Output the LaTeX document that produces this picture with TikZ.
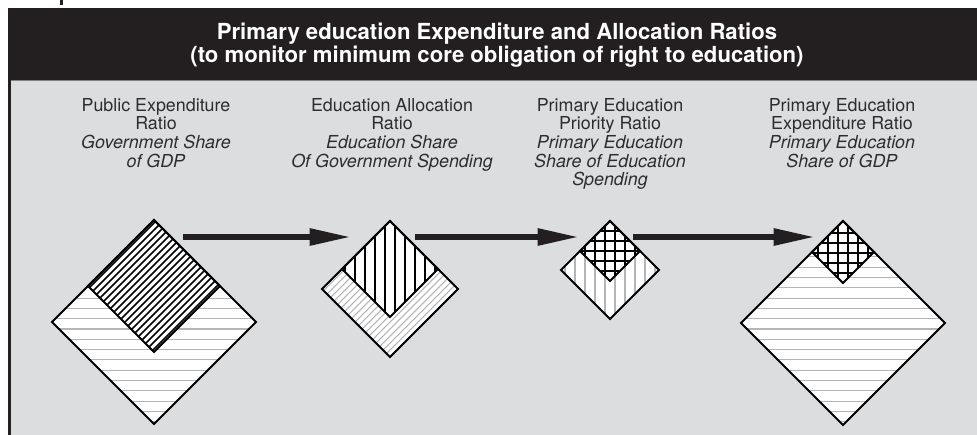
\documentclass[tikz,border=0pt]{standalone}
\usepackage{fontspec}
\setmainfont{TeX Gyre Heros}
\usetikzlibrary{calc, arrows.meta}

\definecolor{panelgrey}{HTML}{DCDDDF}
\definecolor{headblack}{HTML}{231F20}
\definecolor{textgrey}{HTML}{2D2D2D}
\definecolor{hatchgrey}{HTML}{B4B5B7}

\tikzset{
    lbl/.style={anchor=north, inner sep=0pt, align=center, text=textgrey,
        font=\fontsize{13.4}{14}\selectfont},
    hdr/.style={inner sep=0pt, align=center, text=white,
        font=\bfseries\fontsize{16.6}{17.4}\selectfont},
    edge/.style={line width=1.5pt, line join=miter},
    greyhatch/.style={hatchgrey, line width=0.8pt},
    blackhatch/.style={black, line width=1.1pt},
    flow/.style={line width=4.3pt, headblack, -{Triangle[length=31pt, width=12pt]}}
}

\begin{document}
\begin{tikzpicture}[x=0.75pt, y=-0.75pt]
        \useasboundingbox (0,0) rectangle (977,435);
        \fill[headblack] (60,0) rectangle (63,5);
        \fill[panelgrey] (8,80) rectangle (977,435);
        \fill[headblack] (8,8) rectangle (977,80);
        \draw[gray, line width=0.6pt] (8,80.5) -- (977,80.5);
        \draw[headblack, line width=2pt] (9.5,80) -- (9.5,435);
        \node[hdr] (title) at (497,45) {Primary education Expenditure and Allocation Ratios\\(to monitor minimum core obligation of right to education)};

        % labels
        \node[lbl] (pubexp) at (156,98) {Public Expenditure\\Ratio\\\textit{Government Share}\\\textit{of GDP}};
        \node[lbl] (edualloc) at (392,98) {Education Allocation\\Ratio\\\textit{Education Share}\\\textit{Of Government Spending}};
        \node[lbl] (primprio) at (610,98) {Primary Education\\Priority Ratio\\\textit{Primary Education}\\\textit{Share of Education}\\\textit{Spending}};
        \node[lbl] (primexp) at (842,98) {Primary Education\\Expenditure Ratio\\\textit{Primary Education}\\\textit{Share of GDP}};

        % public expenditure diamond
        \begin{scope}
            \clip (154,220) -- (256,322) -- (154,424) -- (52,322) -- cycle;
            \fill[white] (52,220) rectangle (256,424);
            \foreach \y in {226,236.3,...,424}
                \draw[greyhatch] (52,\y) -- (256,\y);
        \end{scope}
        \begin{scope}
            \clip (154,220) -- (220,286) -- (154,352) -- (88,286) -- cycle;
            \fill[white] (88,220) rectangle (220,352);
            \foreach \c in {377,384,...,507}
                \draw[blackhatch] (\c-220,220) -- (\c-352,352);
        \end{scope}
        \draw[edge] (154,220) -- (256,322) -- (154,424) -- (52,322) -- cycle;
        \draw[edge] (154,220) -- (220,286) -- (154,352) -- (88,286) -- cycle;

        % education allocation diamond
        \begin{scope}
            \clip (390,221) -- (458,289) -- (390,357) -- (322,289) -- cycle;
            \fill[white] (322,221) rectangle (458,357);
            \foreach \c in {614,621,...,747}
                \draw[greyhatch] (\c-221,221) -- (\c-357,357);
        \end{scope}
        \begin{scope}
            \clip (390,221) -- (438,269) -- (390,317) -- (342,269) -- cycle;
            \fill[white] (342,221) rectangle (438,317);
            \foreach \x in {345,355,...,435}
                \draw[blackhatch] (\x,221) -- (\x,317);
        \end{scope}
        \draw[edge] (390,221) -- (458,289) -- (390,357) -- (322,289) -- cycle;
        \draw[edge] (390,221) -- (438,269) -- (390,317) -- (342,269) -- cycle;

        % primary priority diamond
        \begin{scope}
            \clip (610,221) -- (659,270) -- (610,319) -- (561,270) -- cycle;
            \fill[white] (561,221) rectangle (659,319);
            \foreach \x in {565,575,...,659}
                \draw[greyhatch] (\x,221) -- (\x,319);
        \end{scope}
        \begin{scope}
            \clip (610,221) -- (640,251) -- (610,281) -- (580,251) -- cycle;
            \fill[white] (580,221) rectangle (640,281);
            \foreach \x in {585,595,...,635}
                \draw[blackhatch] (\x,221) -- (\x,281);
            \foreach \y in {231,241,...,281}
                \draw[blackhatch] (580,\y) -- (640,\y);
        \end{scope}
        \draw[edge] (610,221) -- (659,270) -- (610,319) -- (561,270) -- cycle;
        \draw[edge] (610,221) -- (640,251) -- (610,281) -- (580,251) -- cycle;

        % primary expenditure diamond
        \begin{scope}
            \clip (843,221) -- (945,323) -- (843,425) -- (741,323) -- cycle;
            \fill[white] (741,221) rectangle (945,425);
            \foreach \y in {226,236.3,...,425}
                \draw[greyhatch] (741,\y) -- (945,\y);
        \end{scope}
        \begin{scope}
            \clip (843,221) -- (874,252) -- (843,283) -- (812,252) -- cycle;
            \fill[white] (812,221) rectangle (874,283);
            \foreach \x in {818,828,...,868}
                \draw[blackhatch] (\x,221) -- (\x,283);
            \foreach \y in {233,243,...,283}
                \draw[blackhatch] (812,\y) -- (874,\y);
        \end{scope}
        \draw[edge] (843,221) -- (945,323) -- (843,425) -- (741,323) -- cycle;
        \draw[edge] (843,221) -- (874,252) -- (843,283) -- (812,252) -- cycle;

        % arrows
        \coordinate (a1) at (183,237);
        \coordinate (b1) at (351,237);
        \coordinate (a2) at (415,237);
        \coordinate (b2) at (579,237);
        \coordinate (a3) at (633,237);
        \coordinate (b3) at (815,237);
        \draw[flow] (a1) -- (b1);
        \draw[flow] (a2) -- (b2);
        \draw[flow] (a3) -- (b3);
    \end{tikzpicture}
\end{document}
